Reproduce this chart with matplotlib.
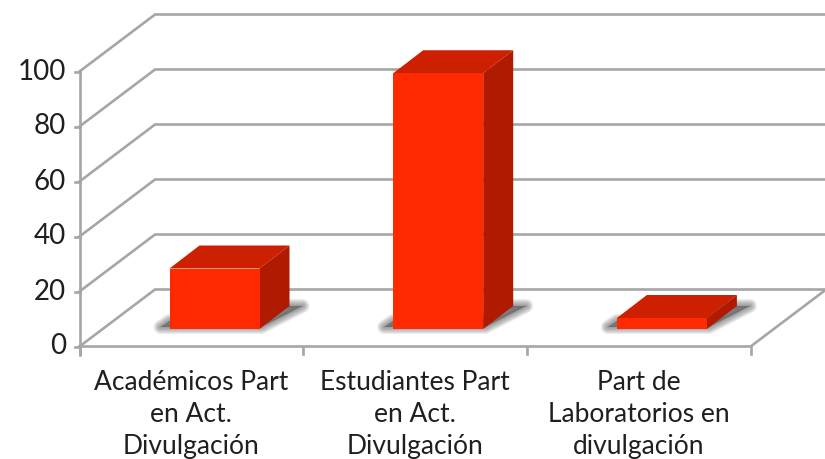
import matplotlib
matplotlib.use("Agg")
import matplotlib.pyplot as plt
from matplotlib.patches import Polygon

categories = ["Académicos Part\nen Act.\nDivulgación",
              "Estudiantes Part\nen Act.\nDivulgación",
              "Part de\nLaboratorios en\ndivulgación"]
values = [22, 93, 4]
y_ticks = [0, 20, 40, 60, 80, 100]

W, H = 825, 459
fig = plt.figure(figsize=(W / 100, H / 100), dpi=100)
ax = fig.add_axes([0, 0, 1, 1])
ax.set_xlim(0, W)
ax.set_ylim(H, 0)
ax.axis("off")

# pseudo-3D frame: category slot -> pixels, value -> pixels
X0, SLOT = 79.5, 223.7
Y0, UNIT = 346.5, 2.75
DX, DY = 75.5, -57
GRID = "#a6a6a6"
TEXT = "#1f1f1f"


def xf(i):
    return X0 + SLOT * i


def yf(v):
    return Y0 - UNIT * v


# walls and grid
for t in y_ticks:
    ax.plot([xf(0), xf(0) + DX, xf(3) + DX], [yf(t), yf(t) + DY, yf(t) + DY],
            color=GRID, lw=1.9, solid_joinstyle="miter", zorder=1)
    ax.plot([xf(0) - 5, xf(0)], [yf(t), yf(t)], color=GRID, lw=1.9, zorder=1)
    ax.text(66, yf(t), str(t), ha="right", va="center",
            fontsize=20, family="Lato", color=TEXT)
ax.plot([xf(0), xf(0)], [yf(100), yf(0) + 8], color=GRID, lw=1.9, zorder=1)

# floor
ax.plot([xf(0), xf(3), xf(3) + DX], [yf(0), yf(0), yf(0) + DY],
        color=GRID, lw=1.9, solid_joinstyle="miter", zorder=1)
for i in range(4):
    ax.plot([xf(i), xf(i)], [yf(0), yf(0) + 7], color=GRID, lw=1.9, zorder=1)

# bars
BAR_W, BAR_DX, BAR_DY, BASE = 90, 30, -23, 329
for i, v in enumerate(values):
    left = xf(i) + 90
    right = left + BAR_W
    top = BASE - UNIT * v
    # soft floor shadow: one outline, stroked at shrinking widths
    shadow = [(left - 9, BASE - 2), (right + 2, BASE - 2),
              (right + 43, BASE - 23), (right + 22, BASE - 23),
              (right, BASE - 10), (left, BASE - 8)]
    for lw in [10, 8.5, 7, 5.5, 4, 2.5, 1]:
        ax.add_patch(Polygon(shadow, closed=True, fc="none", ec="#4a4a4a",
                             lw=lw, alpha=0.10, joinstyle="round", zorder=2))
    ax.add_patch(Polygon(shadow, closed=True, fc="#4a4a4a", ec="none",
                         alpha=0.55, zorder=2))
    ax.add_patch(Polygon([(left, top), (right, top), (right + BAR_DX, top + BAR_DY),
                          (left + BAR_DX, top + BAR_DY)],
                         fc="#cc2000", ec="none", zorder=3))
    ax.add_patch(Polygon([(right, top), (right + BAR_DX, top + BAR_DY),
                          (right + BAR_DX, BASE + BAR_DY), (right, BASE)],
                         fc="#b01a00", ec="none", zorder=3))
    ax.add_patch(Polygon([(left, top), (right, top), (right, BASE), (left, BASE)],
                         fc="#ff2a00", ec="none", zorder=4))
    ax.text((xf(i) + xf(i + 1)) / 2, 370, categories[i], ha="center", va="top",
            fontsize=19, family="Lato", color=TEXT, linespacing=1.35)

fig.savefig("out.png", dpi=100)
